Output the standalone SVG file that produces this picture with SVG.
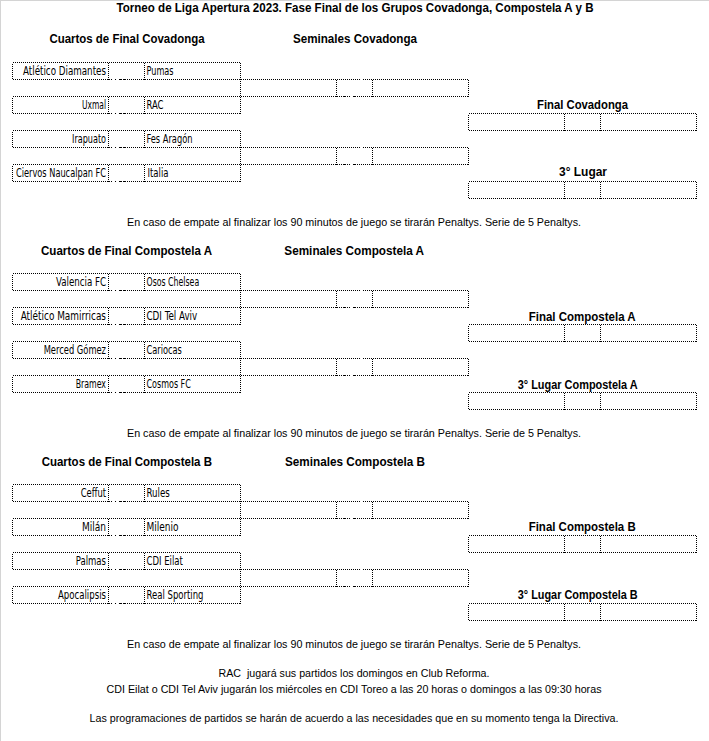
<svg xmlns="http://www.w3.org/2000/svg" xmlns:xlink="http://www.w3.org/1999/xlink" width="709" height="741" viewBox="0 0 709 741">
<style>
.bx{fill:none;stroke:#000;stroke-width:1;stroke-dasharray:1 1;shape-rendering:crispEdges}
.t{font-family:"Liberation Sans Narrow","DejaVu Sans Condensed","Roboto Condensed",sans-serif;font-size:13px;fill:#000}
.l{text-anchor:end}
.h{font-family:"Liberation Sans",Arial,sans-serif;font-weight:bold;font-size:12px;fill:#000;text-anchor:middle}
.n{font-family:"Liberation Sans",Arial,sans-serif;font-size:11.5px;fill:#000;text-anchor:middle}
</style>
<defs>
<g id="box">
<rect class="bx" x="0.5" y="0.5" width="228" height="17"/>
<path class="bx" d="M96.5 0.5v17M132.5 0.5v17"/>
</g>
</defs>
<rect width="709" height="741" fill="#fff"/>
<path d="M0.5 0V741M0 0.5H709" stroke="#d4d4d4" stroke-width="1" shape-rendering="crispEdges"/>
<text class="h" x="355" y="12" textLength="477" lengthAdjust="spacingAndGlyphs">Torneo de Liga Apertura 2023. Fase Final de los Grupos Covadonga, Compostela A y B</text>

<g id="covadonga">
<text class="h" x="127" y="43.3" textLength="155" lengthAdjust="spacingAndGlyphs">Cuartos de Final Covadonga</text>
<text class="h" x="355" y="43.3" textLength="124" lengthAdjust="spacingAndGlyphs">Seminales Covadonga</text>
<g id="cov-qf1"><use href="#box" x="12" y="62"/><text class="t l" x="106" y="75.3" textLength="83" lengthAdjust="spacingAndGlyphs">Atlético Diamantes</text><text class="t" x="146.5" y="75.3" textLength="27" lengthAdjust="spacingAndGlyphs">Pumas</text></g>
<g id="cov-sf1"><use href="#box" x="240" y="79"/></g>
<g id="cov-qf2"><use href="#box" x="12" y="96"/><text class="t l" x="106" y="109.3" textLength="24" lengthAdjust="spacingAndGlyphs">Uxmal</text><text class="t" x="146.5" y="109.3" textLength="17" lengthAdjust="spacingAndGlyphs">RAC</text></g>
<g id="cov-final"><text class="h" x="582.5" y="108.6" textLength="91" lengthAdjust="spacingAndGlyphs">Final Covadonga</text><use href="#box" x="468" y="113"/></g>
<g id="cov-qf3"><use href="#box" x="12" y="130"/><text class="t l" x="106" y="143.3" textLength="34" lengthAdjust="spacingAndGlyphs">Irapuato</text><text class="t" x="146.5" y="143.3" textLength="46" lengthAdjust="spacingAndGlyphs">Fes Aragón</text></g>
<g id="cov-sf2"><use href="#box" x="240" y="147"/></g>
<g id="cov-qf4"><use href="#box" x="12" y="164"/><text class="t l" x="106" y="177.3" textLength="90" lengthAdjust="spacingAndGlyphs">Ciervos Naucalpan FC</text><text class="t" x="147.5" y="177.3" textLength="21" lengthAdjust="spacingAndGlyphs">Italia</text></g>
<g id="cov-third"><text class="h" x="583" y="176.3" textLength="48" lengthAdjust="spacingAndGlyphs">3° Lugar</text><use href="#box" x="468" y="181"/></g>
<text class="n" x="354" y="225.8" textLength="454" lengthAdjust="spacingAndGlyphs">En caso de empate al finalizar los 90 minutos de juego se tirarán Penaltys. Serie de 5 Penaltys.</text>
</g>

<g id="compostela-a">
<text class="h" x="126.5" y="255.3" textLength="171" lengthAdjust="spacingAndGlyphs">Cuartos de Final Compostela A</text>
<text class="h" x="354.2" y="255" textLength="139.7" lengthAdjust="spacingAndGlyphs">Seminales Compostela A</text>
<g id="a-qf1"><use href="#box" x="12" y="273"/><text class="t l" x="106" y="286.3" textLength="50" lengthAdjust="spacingAndGlyphs">Valencia FC</text><text class="t" x="146.5" y="286.3" textLength="52.7" lengthAdjust="spacingAndGlyphs">Osos Chelsea</text></g>
<g id="a-sf1"><use href="#box" x="240" y="290"/></g>
<g id="a-qf2"><use href="#box" x="12" y="307"/><text class="t l" x="106" y="320.3" textLength="85.3" lengthAdjust="spacingAndGlyphs">Atlético Mamirricas</text><text class="t" x="146.5" y="320.3" textLength="50.7" lengthAdjust="spacingAndGlyphs">CDI Tel Aviv</text></g>
<g id="a-final"><text class="h" x="582.2" y="321" textLength="107" lengthAdjust="spacingAndGlyphs">Final Compostela A</text><use href="#box" x="468" y="324"/></g>
<g id="a-qf3"><use href="#box" x="12" y="341"/><text class="t l" x="106" y="354.3" textLength="62.3" lengthAdjust="spacingAndGlyphs">Merced Gómez</text><text class="t" x="146.5" y="354.3" textLength="35.3" lengthAdjust="spacingAndGlyphs">Cariocas</text></g>
<g id="a-sf2"><use href="#box" x="240" y="358"/></g>
<g id="a-qf4"><use href="#box" x="12" y="375"/><text class="t l" x="106" y="388.3" textLength="30.3" lengthAdjust="spacingAndGlyphs">Bramex</text><text class="t" x="146.5" y="388.3" textLength="44.3" lengthAdjust="spacingAndGlyphs">Cosmos FC</text></g>
<g id="a-third"><text class="h" x="577.7" y="389.3" textLength="120" lengthAdjust="spacingAndGlyphs">3° Lugar Compostela A</text><use href="#box" x="468" y="392"/></g>
<text class="n" x="354" y="436.8" textLength="454" lengthAdjust="spacingAndGlyphs">En caso de empate al finalizar los 90 minutos de juego se tirarán Penaltys. Serie de 5 Penaltys.</text>
</g>

<g id="compostela-b">
<text class="h" x="126.8" y="466.3" textLength="170.3" lengthAdjust="spacingAndGlyphs">Cuartos de Final Compostela B</text>
<text class="h" x="355" y="466.3" textLength="140" lengthAdjust="spacingAndGlyphs">Seminales Compostela B</text>
<g id="b-qf1"><use href="#box" x="12" y="484"/><text class="t l" x="106" y="497.3" textLength="25.3" lengthAdjust="spacingAndGlyphs">Ceffut</text><text class="t" x="146.5" y="497.3" textLength="23.3" lengthAdjust="spacingAndGlyphs">Rules</text></g>
<g id="b-sf1"><use href="#box" x="240" y="501"/></g>
<g id="b-qf2"><use href="#box" x="12" y="518"/><text class="t l" x="106" y="531.3" textLength="24" lengthAdjust="spacingAndGlyphs">Milán</text><text class="t" x="146.5" y="531.3" textLength="32" lengthAdjust="spacingAndGlyphs">Milenio</text></g>
<g id="b-final"><text class="h" x="582.2" y="531" textLength="107" lengthAdjust="spacingAndGlyphs">Final Compostela B</text><use href="#box" x="468" y="535"/></g>
<g id="b-qf3"><use href="#box" x="12" y="552"/><text class="t l" x="106" y="565.3" textLength="30.3" lengthAdjust="spacingAndGlyphs">Palmas</text><text class="t" x="146.5" y="565.3" textLength="36.3" lengthAdjust="spacingAndGlyphs">CDI Eilat</text></g>
<g id="b-sf2"><use href="#box" x="240" y="569"/></g>
<g id="b-qf4"><use href="#box" x="12" y="586"/><text class="t l" x="106" y="599.3" textLength="48" lengthAdjust="spacingAndGlyphs">Apocalipsis</text><text class="t" x="146.5" y="599.3" textLength="57" lengthAdjust="spacingAndGlyphs">Real Sporting</text></g>
<g id="b-third"><text class="h" x="577.7" y="599.3" textLength="120" lengthAdjust="spacingAndGlyphs">3° Lugar Compostela B</text><use href="#box" x="468" y="603"/></g>
<text class="n" x="354" y="648" textLength="454" lengthAdjust="spacingAndGlyphs">En caso de empate al finalizar los 90 minutos de juego se tirarán Penaltys. Serie de 5 Penaltys.</text>
</g>

<g id="notes">
<text class="n" x="354" y="677" textLength="271" lengthAdjust="spacingAndGlyphs" xml:space="preserve">RAC  jugará sus partidos los domingos en Club Reforma.</text>
<text class="n" x="354" y="692.5" textLength="495" lengthAdjust="spacingAndGlyphs">CDI Eilat o CDI Tel Aviv jugarán los miércoles en CDI Toreo a las 20 horas o domingos a las 09:30 horas</text>
<text class="n" x="354" y="722" textLength="529" lengthAdjust="spacingAndGlyphs">Las programaciones de partidos se harán de acuerdo a las necesidades que en su momento tenga la Directiva.</text>
</g>
</svg>
